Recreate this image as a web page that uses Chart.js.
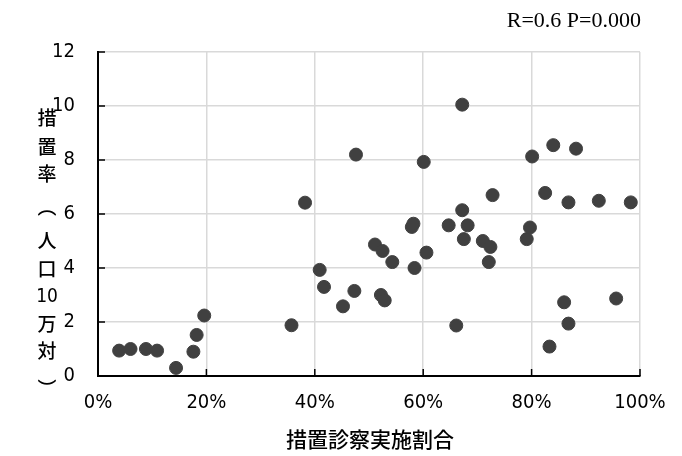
<!DOCTYPE html>
<html>
<head>
<meta charset="utf-8">
<script src="https://cdn.jsdelivr.net/npm/chart.js@4"></script>
<style>
  html, body { margin: 0; padding: 0; background: #fff; }
  #wrap { width: 682px; height: 456px; position: relative; }
</style>
</head>
<body>
<div id="wrap"><canvas id="scatterChart"></canvas></div>
<script>
// 措置診察実施割合 (%)
const rate = [3.9, 6.0, 8.85, 10.9, 14.4, 17.6, 18.2, 19.6, 35.7, 41.7,
  40.9, 38.2, 45.2, 47.3, 47.6, 51.1, 52.5, 52.2, 52.9, 54.3,
  57.9, 58.2, 58.4, 60.1, 60.6, 64.7, 66.1, 67.2, 67.2, 67.5,
  68.2, 71.0, 72.1, 72.4, 72.8, 79.1, 79.7, 80.1, 82.5, 83.3,
  84.0, 86.0, 86.8, 86.8, 88.2, 92.4, 95.6, 98.3];
// 措置率 (人口10万対)
const measures = [0.94, 1.0, 1.0, 0.94, 0.30, 0.90, 1.52, 2.24, 1.88, 3.30,
  3.93, 6.42, 2.58, 3.15, 8.2, 4.87, 4.63, 3.0, 2.8, 4.22,
  5.52, 5.64, 4.0, 7.93, 4.57, 5.58, 1.87, 10.05, 6.14, 5.07,
  5.58, 5.0, 4.22, 4.78, 6.70, 5.07, 5.5, 8.13, 6.78, 1.09,
  8.55, 2.73, 1.94, 6.43, 8.42, 6.49, 2.87, 6.43];
const yTitle = ['措', '置', '率', '︵', '人', '口', '10', '万', '対', '︶'];
const xTitle = '措置診察実施割合';
const note = 'R=0.6 P=0.000';

const tickFont = "'Liberation Sans Narrow', 'DejaVu Sans Condensed', 'Liberation Sans', sans-serif";
const cjkFont = "'Noto Sans CJK JP', sans-serif";

// inward tick marks, like the original spreadsheet chart
const innerTicks = {
    id: 'innerTicks',
    afterDatasetsDraw(chart) {
        const ctx = chart.ctx;
        const { x, y } = chart.scales;
        const area = chart.chartArea;
        ctx.save();
        ctx.strokeStyle = '#000';
        ctx.lineWidth = 1.5;
        ctx.beginPath();
        y.ticks.forEach(t => {
            const py = y.getPixelForValue(t.value);
            ctx.moveTo(area.left, py);
            ctx.lineTo(area.left + 7, py);
        });
        x.ticks.forEach(t => {
            const px = x.getPixelForValue(t.value);
            ctx.moveTo(px, area.bottom);
            ctx.lineTo(px, area.bottom - 7);
        });
        ctx.stroke();
        ctx.restore();
    }
};

// vertical y title, stat note and x title
const labelPlugin = {
    id: 'labels',
    afterDraw(chart) {
        const ctx = chart.ctx;
        const area = chart.chartArea;
        ctx.save();
        ctx.fillStyle = '#000';
        ctx.textAlign = 'center';
        ctx.textBaseline = 'middle';
        const ys = [118, 147, 174, 207, 241, 269, 297, 324, 351, 389];
        yTitle.forEach((ch, i) => {
            if (ch === '10') ctx.font = "19px " + tickFont;
            else ctx.font = "500 19px " + cjkFont;
            ctx.fillText(ch, 47, ys[i]);
        });
        ctx.font = "500 21px " + cjkFont;
        ctx.fillText(xTitle, (area.left + area.right) / 2 + 1, 439);
        ctx.textAlign = 'right';
        ctx.font = "22px 'Liberation Serif', serif";
        ctx.fillText(note, 641, 21);
        ctx.restore();
    }
};

const ctx = document.getElementById('scatterChart').getContext('2d');
new Chart(ctx, {
    type: 'scatter',
    data: {
        datasets: [{
            data: rate.map((x, i) => ({ x: x, y: measures[i] })),
            backgroundColor: '#404040',
            borderColor: '#404040',
            pointRadius: 6.5,
            pointHoverRadius: 6.5
        }]
    },
    options: {
        responsive: true,
        maintainAspectRatio: false,
        animation: false,
        layout: { padding: { top: 52, right: 42, left: 0, bottom: 0 } },
        plugins: {
            legend: { display: false },
            tooltip: { enabled: false }
        },
        scales: {
            x: {
                min: 0,
                max: 100,
                ticks: {
                    stepSize: 20,
                    color: '#000',
                    padding: 15,
                    font: { family: tickFont, size: 20 },
                    callback: v => v + '%'
                },
                grid: { color: '#d9d9d9', lineWidth: 1.5, drawTicks: false },
                border: { color: '#000', width: 2 },
                afterFit: s => { s.height = 80; }
            },
            y: {
                min: 0,
                max: 12,
                ticks: {
                    stepSize: 2,
                    color: '#000',
                    padding: 23,
                    font: { family: tickFont, size: 20 }
                },
                grid: { color: '#d9d9d9', lineWidth: 1.5, drawTicks: false },
                border: { color: '#000', width: 2 },
                afterFit: s => { s.width = 98; }
            }
        }
    },
    plugins: [innerTicks, labelPlugin]
});
</script>
</body>
</html>
